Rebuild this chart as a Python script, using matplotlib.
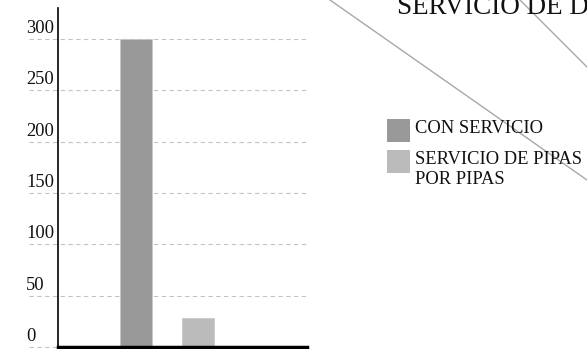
import matplotlib
matplotlib.use('Agg')
import matplotlib.pyplot as plt
from matplotlib.patches import Rectangle
from matplotlib.lines import Line2D
from matplotlib.transforms import offset_copy

plt.rcParams['font.family'] = ['Liberation Serif', 'DejaVu Serif']

# datos
categorias = ['CON SERVICIO', 'SERVICIO DE PIPAS\nPOR PIPAS']
valores = [300, 28]
colores = ['#999999', '#bbbbbb']
yticks = [0, 50, 100, 150, 200, 250, 300]
titulo = 'SERVICIO DE DRENAJE'

W, H = 587, 349
fig = plt.figure(figsize=(W / 100, H / 100), dpi=100)

# ejes en pixeles
ax = fig.add_axes([58 / W, 1 - 347 / H, (307 - 58) / W, (347 - 8) / H])
ax.set_ylim(0, 330)
ax.set_xlim(-1.258, 2.758)

pos = list(range(len(valores)))
ax.bar(pos, valores, width=0.516, color=colores, edgecolor='#c8c8c8', linewidth=0.6, zorder=3)

# grid punteado que sale a la izquierda del eje
x_izq = -(58 - 29) / (307 - 58)
x_lab = -(58 - 26) / (307 - 58)
for v in yticks:
    ax.plot([x_izq, 1], [v, v], transform=ax.get_yaxis_transform(), color='#c4c4c4',
            linestyle=(0, (4, 3)), linewidth=0.8, clip_on=False, zorder=1)
    t = offset_copy(ax.get_yaxis_transform(), fig=fig, x=0, y=6, units='dots')
    ax.text(x_lab, v, str(v), transform=t, ha='left', va='baseline', fontsize=13.3, color='#111111')

ax.set_xticks([])
ax.set_yticks([])
for s in ['top', 'right']:
    ax.spines[s].set_visible(False)
ax.spines['left'].set_linewidth(1.2)
ax.spines['bottom'].set_linewidth(2.5)
ax.spines['bottom'].set_zorder(4)

# leyenda manual
ly = [119, 150]
for i, (cat, col) in enumerate(zip(categorias, colores)):
    fig.patches.append(Rectangle((387 / W, 1 - (ly[i] + 23) / H), 23 / W, 23 / H,
                                 transform=fig.transFigure, facecolor=col, edgecolor='none'))
    fig.text(415 / W, 1 - (ly[i] + 1) / H, cat, ha='left', va='top', fontsize=13.3,
             linespacing=1.22, color='#111111')

# lineas diagonales (guias de otro grafico)
fig.lines.append(Line2D([330 / W, 1], [1, 1 - 180 / H], transform=fig.transFigure,
                        color='#a8a8a8', linewidth=1))
fig.lines.append(Line2D([520 / W, 1], [1, 1 - 67 / H], transform=fig.transFigure,
                        color='#a8a8a8', linewidth=1))

fig.text(397 / W, 1 - 14 / H, titulo, ha='left', va='baseline', fontsize=19.5, color='#111111')

fig.savefig('out.png', dpi=100)
